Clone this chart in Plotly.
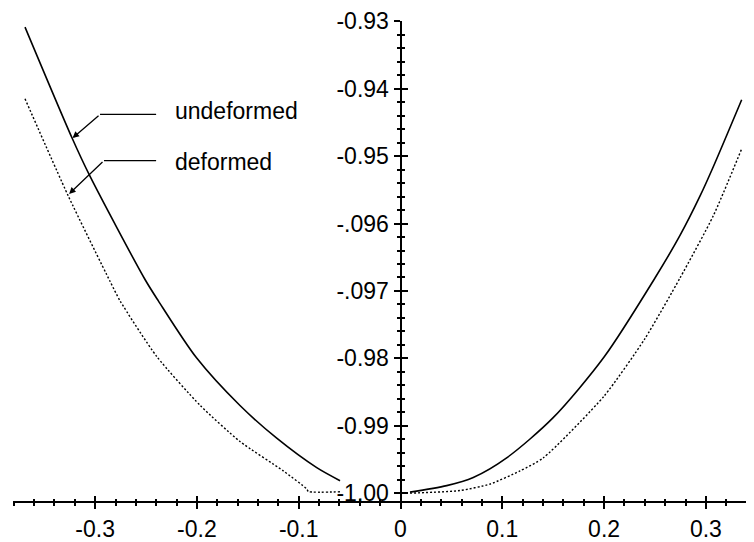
import plotly.graph_objects as go

# ---- data ----
und_left_x = [-0.3689, -0.3230, -0.3057, -0.2510, -0.2379, -0.2002, -0.1577, -0.1216, -0.0823, -0.0594]
und_left_y = [-0.93086, -0.94720, -0.95279, -0.96830, -0.97147, -0.97996, -0.98700, -0.99185, -0.99622, -0.99815]
und_right_x = [0.0093, 0.0454, 0.0715, 0.1043, 0.1500, 0.2000, 0.2500, 0.2746, 0.2942, 0.3073, 0.3352]
und_right_y = [-0.99985, -0.99888, -0.99767, -0.99476, -0.98880, -0.97980, -0.96808, -0.96176, -0.95594, -0.95157, -0.94163]

def_left_x = [-0.3689, -0.3263, -0.2854, -0.2755, -0.2395, -0.1967, -0.1577, -0.1151, -0.0921, -0.0905, -0.0575]
def_left_y = [-0.94149, -0.95594, -0.96856, -0.97147, -0.97972, -0.98700, -0.99233, -0.99670, -0.99937, -0.99975, -0.99978]
def_right_x = [0.0093, 0.0584, 0.0879, 0.1174, 0.1403, 0.2000, 0.2400, 0.2746, 0.3073, 0.3352]
def_right_y = [-1.00000, -0.99961, -0.99865, -0.99670, -0.99476, -0.98560, -0.97710, -0.96808, -0.95885, -0.94891]

x_tickvals = [-0.3, -0.2, -0.1, 0, 0.1, 0.2, 0.3]
x_ticktext = ["-0.3", "-0.2", "-0.1", "0", "0.1", "0.2", "0.3"]
y_tickvals = [-1.00, -0.99, -0.98, -0.97, -0.96, -0.95, -0.94, -0.93]
y_ticktext = ["-1.00", "-0.99", "-0.98", "-.097", "-.096", "-0.95", "-0.94", "-0.93"]

labels = ["undeformed", "deformed"]
label_pos = [(-0.2235, -0.94330), (-0.2235, -0.95080)]
leader_h = [((-0.2952, -0.2401), -0.94381), ((-0.2913, -0.2401), -0.95066)]
arrow_tip = [(-0.3222, -0.94731), (-0.3256, -0.95560)]

XR = [-0.3807, 0.3473]
YR = [-1.00131, -0.92995]
FONT = "Liberation Sans, Arial, Helvetica, sans-serif"
FS = 23

fig = go.Figure()
fig.add_trace(go.Scatter(x=und_left_x + [None] + und_right_x, y=und_left_y + [None] + und_right_y,
                         mode="lines", line=dict(color="black", width=1.6, shape="spline", smoothing=0.8),
                         name="undeformed", connectgaps=False))
fig.add_trace(go.Scatter(x=def_left_x + [None] + def_right_x, y=def_left_y + [None] + def_right_y,
                         mode="lines", line=dict(color="black", width=1.4, dash="2px,2px",
                                                 shape="spline", smoothing=0.6),
                         name="deformed", connectgaps=False))
fig.add_trace(go.Scatter(x=[None], y=[None], xaxis="x2", yaxis="y2", showlegend=False, hoverinfo="skip"))

# page body has an 8px default margin: the figure is sized and offset to compensate
ML, MT, MB = 5, 7, 37
W, H = 746, 534
ypos = (400.5 - 13) / 741.0

axis_common = dict(showgrid=False, zeroline=False, color="black", tickcolor="black")

fig.update_layout(
    width=W, height=H,
    margin=dict(l=ML, r=0, t=MT, b=MB, pad=0),
    paper_bgcolor="white", plot_bgcolor="white",
    showlegend=False,
    font=dict(family=FONT, size=FS, color="black"),
    xaxis=dict(range=XR, anchor="free", position=0, showline=True, linecolor="black", linewidth=2,
               ticks="outside", ticklen=6, tickwidth=1.5, tickmode="array",
               tickvals=x_tickvals, ticktext=x_ticktext, tickfont=dict(size=FS, family=FONT),
               ticklabeloverflow="allow",
               minor=dict(ticks="outside", ticklen=3, tickwidth=1.5, tickcolor="black",
                          tickmode="linear", tick0=0, dtick=0.02, showgrid=False),
               **axis_common),
    xaxis2=dict(range=XR, overlaying="x", anchor="free", position=0, side="bottom", showline=False,
                ticks="inside", ticklen=6, tickwidth=1.5, tickmode="array", tickvals=x_tickvals,
                showticklabels=False,
                minor=dict(ticks="inside", ticklen=3, tickwidth=1.5, tickcolor="black",
                           tickmode="linear", tick0=0, dtick=0.02, showgrid=False),
                **axis_common),
    yaxis=dict(range=YR, anchor="free", position=ypos, side="left", showline=True, linecolor="black",
               linewidth=2, ticks="outside", ticklen=6, tickwidth=1.5, tickmode="array",
               tickvals=y_tickvals, ticktext=y_ticktext, tickfont=dict(size=FS, family=FONT),
               ticklabeloverflow="allow",
               minor=dict(ticks="outside", ticklen=3, tickwidth=1.5, tickcolor="black",
                          tickmode="linear", tick0=-1.0, dtick=0.002, showgrid=False),
               **axis_common),
    yaxis2=dict(range=YR, overlaying="y", anchor="free", position=ypos, side="left", showline=False,
                ticks="inside", ticklen=6, tickwidth=1.5, tickmode="array", tickvals=y_tickvals,
                showticklabels=False,
                minor=dict(ticks="inside", ticklen=3, tickwidth=1.5, tickcolor="black",
                           tickmode="linear", tick0=-1.0, dtick=0.002, showgrid=False),
                **axis_common),
)

for lab, (tx, ty), ((hx0, hx1), hy), (ax_, ay_) in zip(labels, label_pos, leader_h, arrow_tip):
    fig.add_annotation(x=tx, y=ty, xref="x", yref="y", text=lab, showarrow=False,
                       xanchor="left", yanchor="middle", font=dict(size=FS, family=FONT, color="black"))
    fig.add_shape(type="line", x0=hx0, x1=hx1, y0=hy, y1=hy, xref="x", yref="y",
                  line=dict(color="black", width=1.3))
    fig.add_annotation(x=ax_, y=ay_, ax=hx0, ay=hy, xref="x", yref="y", axref="x", ayref="y",
                       text="", showarrow=True, arrowhead=2, arrowsize=1, arrowwidth=1.3,
                       arrowcolor="black", standoff=0, startstandoff=0)

fig.write_html("out.html")
